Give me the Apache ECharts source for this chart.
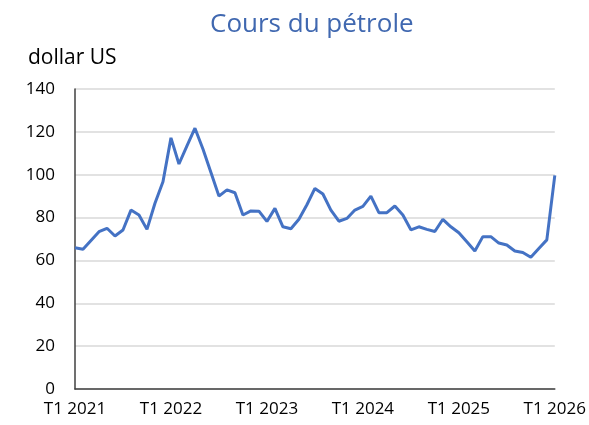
<!DOCTYPE html>
<html>
<head>
<meta charset="utf-8">
<script src="https://cdn.jsdelivr.net/npm/echarts@6/dist/echarts.min.js"></script>
<style>
  html, body { margin: 0; padding: 0; background: #fff; }
  #chart { width: 589px; height: 425px; }
</style>
</head>
<body>
<div id="chart"></div>
<script>
// mensuel, janv. 2021 -> janv. 2026
var years = [2021, 2022, 2023, 2024, 2025, 2026];
var xTickLabels = ['T1 2021', 'T1 2022', 'T1 2023', 'T1 2024', 'T1 2025', 'T1 2026'];
var yTicks = [0, 20, 40, 60, 80, 100, 120, 140];

var prix = [
  65.9, 65.2, 69.3, 73.4, 75.0, 71.4, 74.2, 83.5, 81.2, 74.5, 86.7, 96.7,
  117.2, 105.0, 113.5, 121.7, 112.0, 101.0, 90.0, 92.9, 91.6, 81.2, 83.1, 83.0,
  78.2, 84.3, 75.7, 74.8, 79.2, 86.0, 93.6, 91.0, 83.5, 78.3, 79.6, 83.5,
  85.2, 90.0, 82.3, 82.3, 85.4, 81.2, 74.3, 75.7, 74.5, 73.5, 79.2, 75.7,
  72.9, 68.7, 64.4, 71.1, 71.1, 68.1, 67.2, 64.4, 63.7, 61.5, 65.6, 69.6,
  99.7
];

var mois = [];
years.forEach(function (y) {
  for (var m = 1; m <= 12; m++) {
    if (y === 2026 && m > 1) break;
    mois.push(y + '-' + (m < 10 ? '0' + m : m));
  }
});

var chart = echarts.init(document.getElementById('chart'));
var option = {
  backgroundColor: '#fff',
  animation: false,
  title: [
    {
      text: 'Cours du pétrole',
      left: 205,
      top: 7,
      textStyle: { color: '#4068b0', fontFamily: 'Open Sans', fontWeight: 'normal', fontSize: 26 }
    },
    {
      text: 'dollar US',
      left: 23,
      top: 43,
      textStyle: { color: '#000', fontFamily: 'Open Sans', fontWeight: 'normal', fontSize: 21 }
    }
  ],
  grid: { left: 75, right: 33, top: 89, bottom: 36 },
  xAxis: {
    type: 'category',
    data: mois,
    boundaryGap: false,
    axisLine: { lineStyle: { color: '#404040', width: 1.5 } },
    axisTick: { show: false },
    axisLabel: {
      interval: 11,
      margin: 12,
      color: '#000',
      fontFamily: 'Open Sans',
      fontSize: 17,
      formatter: function (v, i) { return xTickLabels[Math.round(i / 12)]; }
    },
    splitLine: { show: false }
  },
  yAxis: {
    type: 'value',
    min: yTicks[0],
    max: yTicks[yTicks.length - 1],
    interval: 20,
    axisLine: { show: true, lineStyle: { color: '#404040', width: 1.5 } },
    axisTick: { show: false },
    axisLabel: { margin: 20, color: '#000', fontFamily: 'Open Sans', fontSize: 17 },
    splitLine: { lineStyle: { color: '#d9d9d9', width: 1.5 } }
  },
  series: [
    {
      name: 'Cours du pétrole',
      type: 'line',
      data: prix,
      symbol: 'none',
      lineStyle: { color: '#4472c4', width: 3 }
    }
  ]
};
chart.setOption(option);
</script>
</body>
</html>
